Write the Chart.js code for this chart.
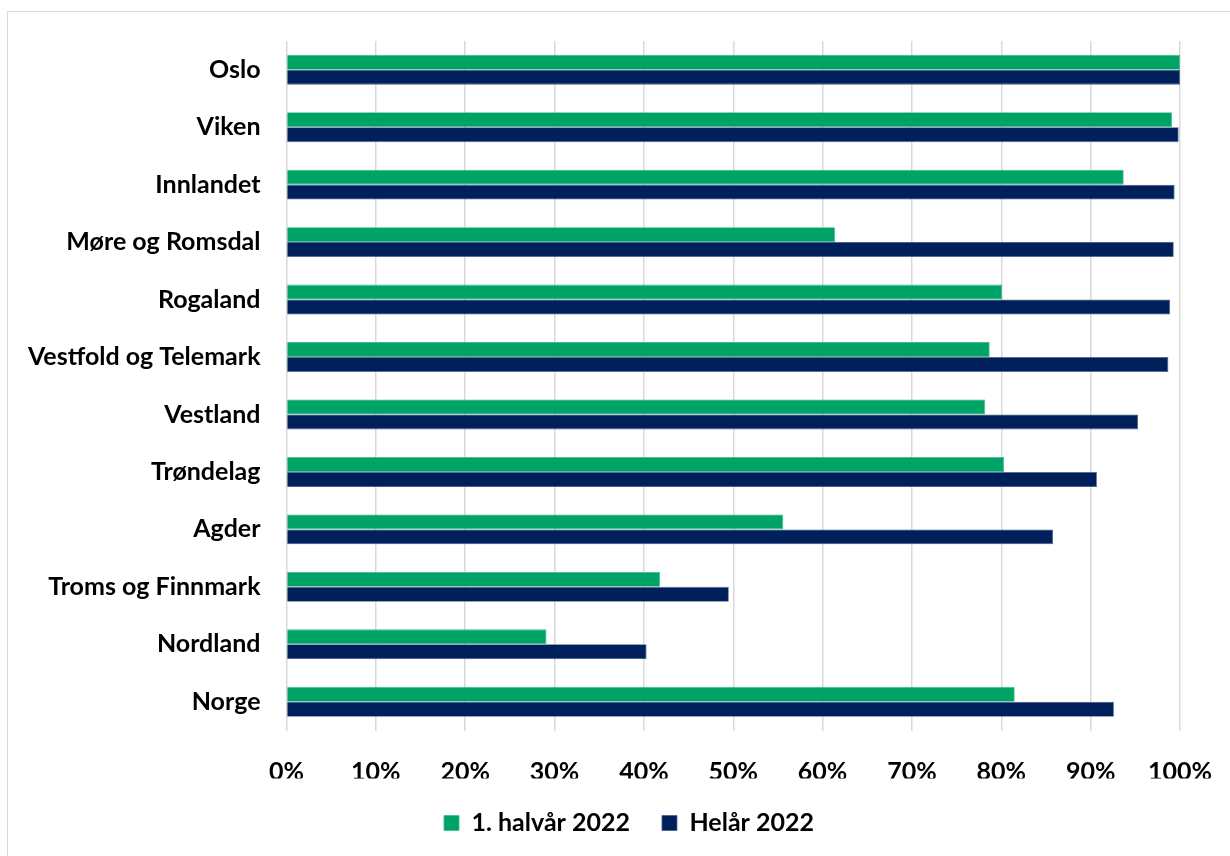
<!DOCTYPE html>
<html lang="no">
<head>
<meta charset="utf-8">
<script src="https://cdn.jsdelivr.net/npm/chart.js@4"></script>
<style>
  html, body { margin: 0; padding: 0; background: #fff; }
  #frame {
    position: absolute; left: 7px; top: 11px; width: 1240px; height: 870px;
    border: 1px solid #d9d9d9; box-sizing: border-box;
  }
  #wrap { position: absolute; left: 0; top: 0; width: 1230px; height: 856px; }
</style>
</head>
<body>
<div id="frame"></div>
<div id="wrap"><canvas id="chart" width="1230" height="856"></canvas></div>
<script>
// Andel per fylke, 1. halvår og helår 2022 (prosent)
const regions = [
  'Oslo', 'Viken', 'Innlandet', 'Møre og Romsdal', 'Rogaland',
  'Vestfold og Telemark', 'Vestland', 'Trøndelag', 'Agder',
  'Troms og Finnmark', 'Nordland', 'Norge'
];
const firstHalf2022 = [100, 99.1, 93.7, 61.4, 80.1, 78.7, 78.2, 80.3, 55.6, 41.8, 29.1, 81.5];
const fullYear2022 = [100, 99.85, 99.4, 99.3, 98.9, 98.7, 95.3, 90.7, 85.8, 49.5, 40.3, 92.6];
const seriesNames = ['1. halvår 2022', 'Helår 2022'];
const xTicks = [0, 10, 20, 30, 40, 50, 60, 70, 80, 90, 100];

const font = { family: 'Lato, "Open Sans", sans-serif', size: 25, weight: 'bold' };

// Moves the legend band so the legend sits a little right of the canvas centre
const legendShift = {
  id: 'legendShift',
  afterLayout(chart) {
    const lg = chart.legend;
    if (!lg) return;
    lg.left = 39;
    lg.right = 1219;
    lg.width = lg.right - lg.left;
  }
};

new Chart(document.getElementById('chart'), {
  type: 'bar',
  data: {
    labels: regions,
    datasets: [
      {
        label: seriesNames[0],
        data: firstHalf2022,
        backgroundColor: '#00A366',
        borderColor: '#3fbb8c',
        borderWidth: 0.8,
        categoryPercentage: 0.52,
        barPercentage: 1.0
      },
      {
        label: seriesNames[1],
        data: fullYear2022,
        backgroundColor: '#00205B',
        borderColor: '#4a5f8c',
        borderWidth: 0.8,
        categoryPercentage: 0.52,
        barPercentage: 1.0
      }
    ]
  },
  plugins: [legendShift],
  options: {
    indexAxis: 'y',
    responsive: false,
    animation: false,
    devicePixelRatio: 1,
    layout: { padding: { left: 0, right: 50, top: 40, bottom: 10.5 } },
    scales: {
      x: {
        min: 0, max: 100,
        afterBuildTicks: s => { s.ticks = xTicks.map(v => ({ value: v })); },
        grid: { color: '#d9d9d9', lineWidth: 1.5, drawTicks: false },
        border: { display: false },
        ticks: {
          color: '#000', font: font, padding: 26,
          callback: v => v + '%'
        },
        afterFit: s => { s.height = 48; s.paddingLeft = 0; s.paddingRight = 0; }
      },
      y: {
        grid: { display: false, drawTicks: false },
        border: { display: false },
        ticks: { color: '#000', font: font, padding: 26 },
        afterFit: s => { s.width = 286.5; }
      }
    },
    plugins: {
      legend: {
        position: 'bottom',
        labels: {
          color: '#000', font: font, boxWidth: 15, boxHeight: 15, padding: 32
        }
      },
      tooltip: { enabled: false }
    }
  }
});
</script>
</body>
</html>
